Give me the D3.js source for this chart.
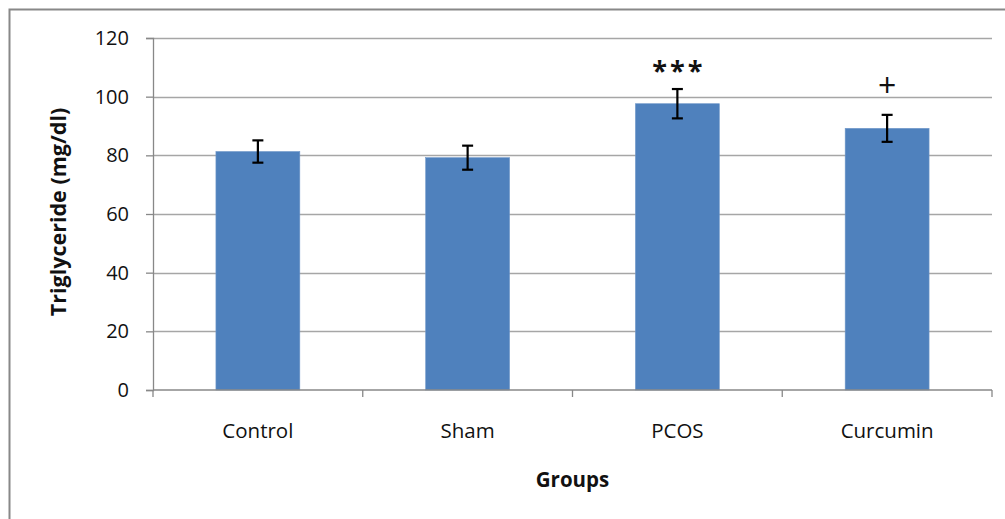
<!DOCTYPE html>
<html>
<head>
<meta charset="utf-8">
<script src="https://cdn.jsdelivr.net/npm/d3@7"></script>
<style>
  body { margin: 0; background: #fff; }
  svg text { font-family: "Open Sans", Lato, sans-serif; fill: #111; }
</style>
</head>
<body>
<svg id="chart" width="1005" height="519"></svg>
<script>
// values
var groups = ["Control", "Sham", "PCOS", "Curcumin"];
var means = [81.3, 79.2, 97.6, 89.2];
var errors = [3.8, 4.1, 5.0, 4.6];
var marks = ["", "", "***", "+"];
var yTicks = [0, 20, 40, 60, 80, 100, 120];

var svg = d3.select("#chart");
var margin = {top: 38, right: 13, bottom: 129, left: 153};
var width = 1005 - margin.left - margin.right;
var height = 519 - margin.top - margin.bottom;

// outer frame (left + top only are visible)
svg.append("path")
  .attr("d", "M9.5,519 V9.5 H1005")
  .attr("fill", "none")
  .attr("stroke", "#888")
  .attr("stroke-width", 2);

var g = svg.append("g")
  .attr("transform", "translate(" + margin.left + "," + margin.top + ")");

var x = d3.scaleBand()
  .domain(groups)
  .range([0, width])
  .paddingInner(0.6)
  .paddingOuter(0.3);

var y = d3.scaleLinear()
  .domain([0, 120])
  .range([height, 0]);

// gridlines
g.append("g")
  .selectAll("line")
  .data(yTicks.filter(function(d) { return d > 0; }))
  .enter().append("line")
  .attr("x1", 0)
  .attr("x2", width)
  .attr("y1", function(d) { return Math.round(y(d)) + 0.5; })
  .attr("y2", function(d) { return Math.round(y(d)) + 0.5; })
  .attr("stroke", "#a6a6a6")
  .attr("stroke-width", 1.5);

// bars
g.append("g")
  .selectAll("rect")
  .data(groups)
  .enter().append("rect")
  .attr("x", function(d) { return x(d); })
  .attr("y", function(d, i) { return y(means[i]); })
  .attr("width", x.bandwidth())
  .attr("height", function(d, i) { return height - y(means[i]); })
  .attr("fill", "#4f81bd")
  .attr("stroke", "#6f97c9")
  .attr("stroke-width", 0.6);

// y axis
var yAxis = g.append("g")
  .call(d3.axisLeft(y).tickValues(yTicks).tickSize(7).tickPadding(17));
yAxis.select(".domain").attr("stroke", "#888").attr("stroke-width", 1.3);
yAxis.selectAll(".tick line").attr("stroke", "#888").attr("stroke-width", 1.3);
yAxis.selectAll(".tick text")
  .style("font-size", "20px")
  .attr("fill", "#111");

// x axis, ticks between categories
var xAxis = g.append("g")
  .attr("transform", "translate(0," + height + ")");
xAxis.append("line")
  .attr("x1", 0).attr("x2", width)
  .attr("stroke", "#888").attr("stroke-width", 1.3);
var step = x.step();
var bounds = d3.range(groups.length + 1).map(function(i) {
  return i === 0 ? 0 : (i === groups.length ? width : x(groups[i]) - x.paddingInner() * step / 2);
});
xAxis.selectAll(".sep")
  .data(bounds)
  .enter().append("line")
  .attr("x1", function(d) { return d; })
  .attr("x2", function(d) { return d; })
  .attr("y1", 0)
  .attr("y2", 7)
  .attr("stroke", "#888")
  .attr("stroke-width", 1.3);
xAxis.selectAll(".lbl")
  .data(groups)
  .enter().append("text")
  .attr("x", function(d) { return x(d) + x.bandwidth() / 2; })
  .attr("y", 48)
  .attr("text-anchor", "middle")
  .style("font-size", "20.5px")
  .text(function(d) { return d; });

// error bars
var capW = 5.5;
var eb = g.append("g").selectAll("g")
  .data(groups)
  .enter().append("g")
  .attr("stroke", "#000")
  .attr("stroke-width", 2.2);
eb.append("line")
  .attr("x1", function(d) { return x(d) + x.bandwidth() / 2; })
  .attr("x2", function(d) { return x(d) + x.bandwidth() / 2; })
  .attr("y1", function(d, i) { return y(means[i] + errors[i]); })
  .attr("y2", function(d, i) { return y(means[i] - errors[i]); });
eb.append("line")
  .attr("x1", function(d) { return x(d) + x.bandwidth() / 2 - capW; })
  .attr("x2", function(d) { return x(d) + x.bandwidth() / 2 + capW; })
  .attr("y1", function(d, i) { return y(means[i] + errors[i]); })
  .attr("y2", function(d, i) { return y(means[i] + errors[i]); });
eb.append("line")
  .attr("x1", function(d) { return x(d) + x.bandwidth() / 2 - capW; })
  .attr("x2", function(d) { return x(d) + x.bandwidth() / 2 + capW; })
  .attr("y1", function(d, i) { return y(means[i] - errors[i]); })
  .attr("y2", function(d, i) { return y(means[i] - errors[i]); });

// significance marks
g.append("g").selectAll("text")
  .data(groups)
  .enter().append("text")
  .attr("x", function(d) { return x(d) + x.bandwidth() / 2; })
  .attr("dx", function(d, i) { return marks[i] === "+" ? 0 : 1.5; })
  .attr("y", function(d, i) { return y(means[i] + errors[i]) - (marks[i] === "+" ? 18 : 9); })
  .attr("text-anchor", "middle")
  .style("font-size", function(d, i) { return marks[i] === "+" ? "32px" : "27px"; })
  .style("font-weight", function(d, i) { return marks[i] === "+" ? "normal" : "bold"; })
  .style("letter-spacing", function(d, i) { return marks[i] === "+" ? "0px" : "3px"; })
  .text(function(d, i) { return marks[i]; });

// axis titles
svg.append("text")
  .attr("transform", "translate(66," + (margin.top + height / 2 - 2) + ") rotate(-90)")
  .attr("text-anchor", "middle")
  .style("font-size", "21.5px")
  .style("font-weight", "bold")
  .text("Triglyceride (mg/dl)");

svg.append("text")
  .attr("x", margin.left + width / 2)
  .attr("y", 487)
  .attr("text-anchor", "middle")
  .style("font-size", "20.5px")
  .style("font-weight", "bold")
  .text("Groups");
</script>
</body>
</html>
